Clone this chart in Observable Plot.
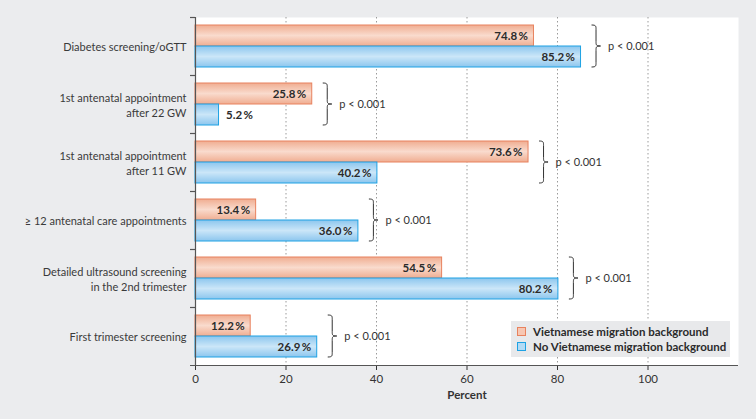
<!DOCTYPE html>
<html>
<head>
<meta charset="utf-8">
<script src="https://cdn.jsdelivr.net/npm/d3@7"></script>
<script src="https://cdn.jsdelivr.net/npm/@observablehq/plot@0.6"></script>
<style>
  html, body { margin: 0; padding: 0; background: #ebecee; }
  #wrap { position: relative; width: 756px; height: 419px; font-family: Lato, sans-serif; }
  #legend { position: absolute; left: 511px; top: 321px; width: 219px; height: 36px; background: #e8e9eb;
    font-weight: bold; font-size: 11.5px; color: #2b2b2b; box-sizing: border-box; padding: 3px 0 0 6px; }
  #legend .row { display: flex; align-items: center; height: 15px; }
  #legend .sw { width: 7px; height: 7px; border: 1px solid; margin-right: 7px; }
</style>
</head>
<body>
<div id="wrap"></div>
<script>
const categories = [
  "Diabetes screening/oGTT",
  "1st antenatal appointment\nafter 22 GW",
  "1st antenatal appointment\nafter 11 GW",
  "≥ 12 antenatal care appointments",
  "Detailed ultrasound screening\nin the 2nd trimester",
  "First trimester screening"
];
const vietnamese = [74.8, 25.8, 73.6, 13.4, 54.5, 12.2];
const noVietnamese = [85.2, 5.2, 40.2, 36.0, 80.2, 26.9];
const pValues = ["p < 0.001", "p < 0.001", "p < 0.001", "p < 0.001", "p < 0.001", "p < 0.001"];
const seriesNames = ["Vietnamese migration background", "No Vietnamese migration background"];
const xTicks = [0, 20, 40, 60, 80, 100];

const orangeStroke = "#e8825e", blueStroke = "#1ea2e4";

const vData = categories.map((c, i) => ({cat: c, value: vietnamese[i]}));
const nData = categories.map((c, i) => ({cat: c, value: noVietnamese[i]}));
const groups = categories.map((c, i) => ({cat: c, max: Math.max(vietnamese[i], noVietnamese[i]), p: pValues[i]}));
const fmt = v => v.toFixed(1) + "\u2009%";
const inside = d => d.value >= 10;

function defs() {
  const d = d3.create("svg:defs");
  const mk = (id, edge, mid) => {
    const g = d.append("linearGradient").attr("id", id).attr("x1", 0).attr("x2", 0).attr("y1", 0).attr("y2", 1);
    g.append("stop").attr("offset", "0%").attr("stop-color", edge);
    g.append("stop").attr("offset", "50%").attr("stop-color", mid);
    g.append("stop").attr("offset", "100%").attr("stop-color", edge);
  };
  mk("gradO", "#f0ad91", "#f9dbcd");
  mk("gradB", "#8cc6ee", "#cbe6f8");
  return d.node();
}

function braces(index, scales) {
  const g = d3.create("svg:g").attr("fill", "none").attr("stroke", "#333").attr("stroke-width", 1);
  const bw = scales.y(categories[1]) - scales.y(categories[0]);
  for (const d of groups) {
    const x = scales.x(d.max) + 11;
    const top = scales.y(d.cat) + 8, bot = scales.y(d.cat) + bw - 8, mid = (top + bot) / 2;
    const w = 9, h = 4.5, r = 4.5;
    g.append("path").attr("d",
      `M${x},${top} C${x + h},${top} ${x + h},${top + 1} ${x + h},${top + r} L${x + h},${mid - r} C${x + h},${mid - 1} ${x + h},${mid} ${x + w},${mid}` +
      ` C${x + h},${mid} ${x + h},${mid + 1} ${x + h},${mid + r} L${x + h},${bot - r} C${x + h},${bot - 1} ${x + h},${bot} ${x},${bot}`);
  }
  return g.node();
}

const last = categories[categories.length - 1];

const chart = Plot.plot({
  width: 756,
  height: 419,
  marginLeft: 195,
  marginRight: 18,
  marginTop: 17,
  marginBottom: 54,
  style: {background: "#ebecee", fontFamily: "Lato, sans-serif", fontSize: "11.5px", color: "#333"},
  x: {domain: [0, 120], ticks: xTicks, tickSize: 5, tickPadding: 4, label: null},
  y: {domain: categories, padding: 0, axis: null},
  marks: [
    defs,
    Plot.frame({fill: "white", stroke: null}),
    Plot.ruleX([20, 40, 60, 80, 100], {stroke: "#9a9a9a", strokeDasharray: "1.5,2.5", strokeWidth: 1}),
    Plot.barX(vData, {y: "cat", x: "value", fill: "url(#gradO)", stroke: orangeStroke, strokeWidth: 1, insetTop: 8, insetBottom: 29}),
    Plot.barX(nData, {y: "cat", x: "value", fill: "url(#gradB)", stroke: blueStroke, strokeWidth: 1, insetTop: 29, insetBottom: 8}),
    Plot.text(vData.filter(inside), {y: "cat", x: "value", text: d => fmt(d.value), textAnchor: "end", dx: -6, dy: -10.5, fontWeight: "bold", fontSize: 11.5, fill: "#2b2b2b"}),
    Plot.text(nData.filter(inside), {y: "cat", x: "value", text: d => fmt(d.value), textAnchor: "end", dx: -6, dy: 10.5, fontWeight: "bold", fontSize: 11.5, fill: "#2b2b2b"}),
    Plot.text(vData.filter(d => !inside(d)), {y: "cat", x: "value", text: d => fmt(d.value), textAnchor: "start", dx: 7, dy: -10.5, fontWeight: "bold", fontSize: 11.5, fill: "#2b2b2b"}),
    Plot.text(nData.filter(d => !inside(d)), {y: "cat", x: "value", text: d => fmt(d.value), textAnchor: "start", dx: 7, dy: 10.5, fontWeight: "bold", fontSize: 11.5, fill: "#2b2b2b"}),
    braces,
    Plot.text(groups, {y: "cat", x: "max", text: "p", textAnchor: "start", dx: 27, fontSize: 11, fill: "#333"}),
    Plot.text(categories, {y: d => d, frameAnchor: "left", textAnchor: "end", dx: -9, fontSize: 11, lineHeight: 1.36, fill: "#3a3a3a"}),
    Plot.ruleX([0], {stroke: "#555", strokeWidth: 1.2}),
    Plot.ruleY(categories, {y: d => d, x1: -1.1, x2: 0, dy: -29, stroke: "#555", strokeWidth: 1.2}),
    Plot.ruleY([last], {y: d => d, x1: -1.1, x2: 120, dy: 29, stroke: "#555", strokeWidth: 1.2}),
    Plot.text(["Percent"], {frameAnchor: "bottom", dy: 33, fontWeight: "bold", fontSize: 11.5, fill: "#333"})
  ]
});

const wrap = document.getElementById("wrap");
wrap.appendChild(chart);
const legend = document.createElement("div");
legend.id = "legend";
const fills = ["#f7c7b3", "#b3dbf5"], strokes = [orangeStroke, blueStroke];
seriesNames.forEach((name, i) => {
  const row = document.createElement("div");
  row.className = "row";
  const sw = document.createElement("span");
  sw.className = "sw";
  sw.style.background = fills[i];
  sw.style.borderColor = strokes[i];
  const t = document.createElement("span");
  t.textContent = name;
  row.appendChild(sw); row.appendChild(t);
  legend.appendChild(row);
});
wrap.appendChild(legend);
</script>
</body>
</html>
